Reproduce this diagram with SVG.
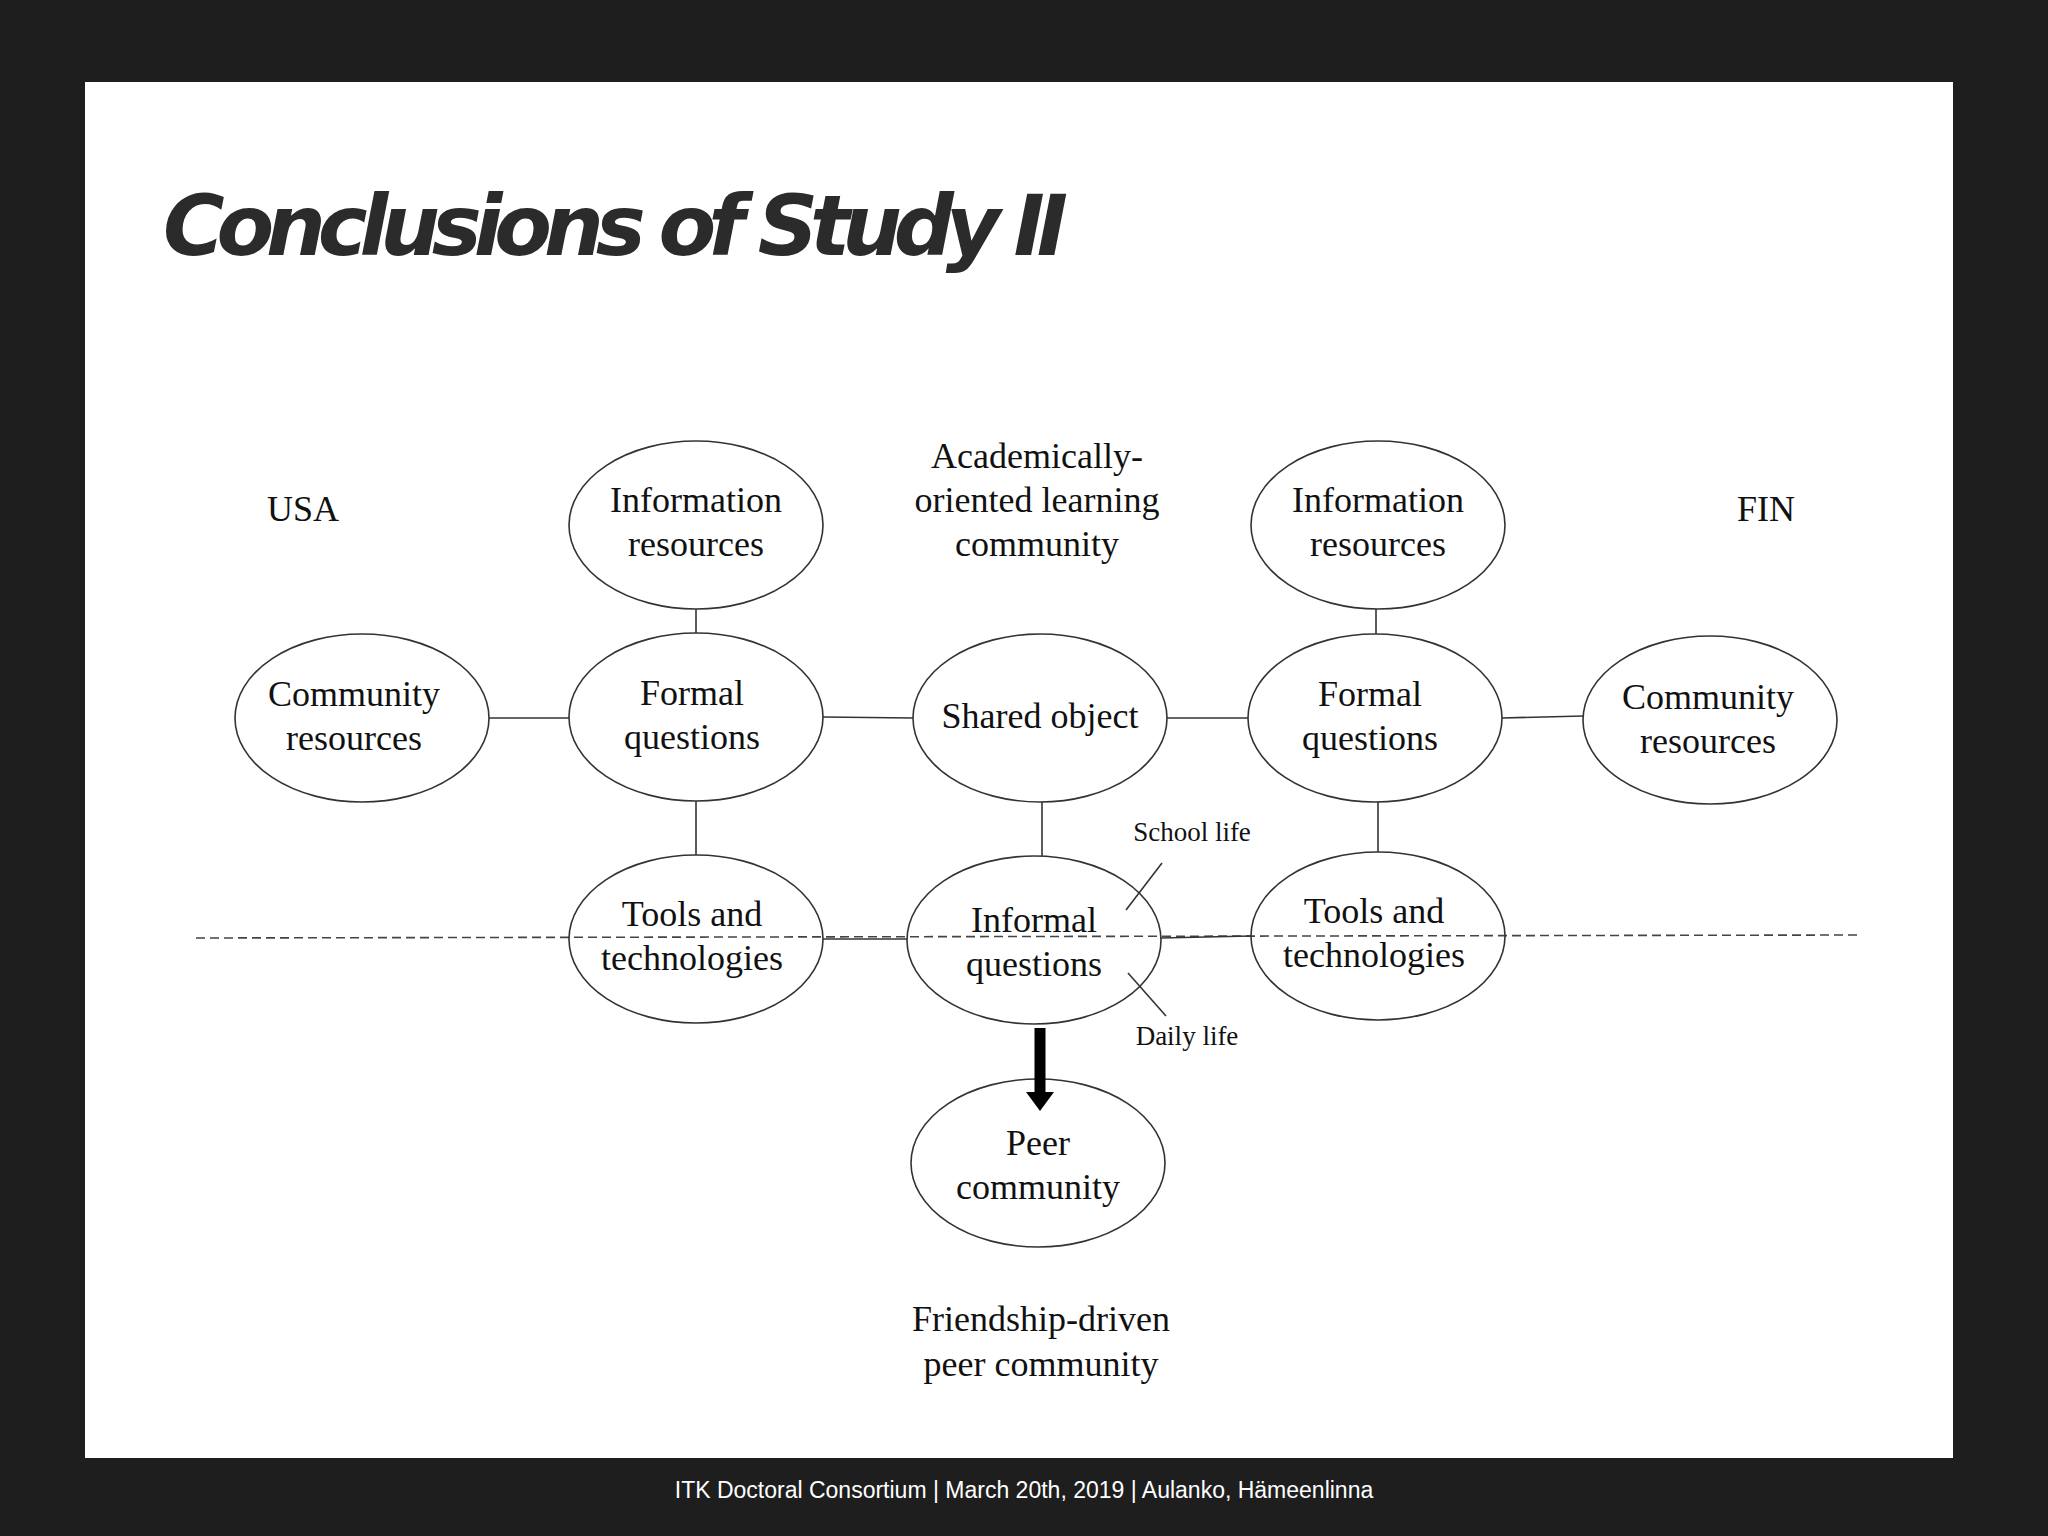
<svg xmlns="http://www.w3.org/2000/svg" width="2048" height="1536" viewBox="0 0 2048 1536">
<style>
.n{fill:#fff;stroke:#333;stroke-width:1.6}
.t{font-family:"Liberation Serif",serif;font-size:36px;fill:#111;text-anchor:middle}
.s{font-family:"Liberation Serif",serif;font-size:27px;fill:#111;text-anchor:middle}
.c line{stroke:#333;stroke-width:1.6}
</style>
<rect width="2048" height="1536" fill="#1e1e1e"/>
<rect x="85" y="82" width="1868" height="1376" fill="#fff"/>
<text x="163" y="255" font-family="DejaVu Sans, sans-serif" font-weight="bold" font-style="italic" font-size="84" fill="#2b2b2b" textLength="905">Conclusions of Study II</text>
<text x="1024" y="1498" font-family="Liberation Sans, sans-serif" font-size="23" fill="#fff" text-anchor="middle">ITK Doctoral Consortium | March 20th, 2019 | Aulanko, Hämeenlinna</text>
<line x1="196" y1="938" x2="1857" y2="935" stroke="#444" stroke-width="1.6" stroke-dasharray="9,5"/>
<g class="c">
<line x1="696" y1="609" x2="696" y2="633"/>
<line x1="489" y1="718" x2="569" y2="718"/>
<line x1="823" y1="717" x2="913" y2="718"/>
<line x1="1167" y1="718" x2="1248" y2="718"/>
<line x1="1502" y1="718" x2="1583" y2="716"/>
<line x1="1376" y1="609" x2="1376" y2="634"/>
<line x1="696" y1="801" x2="696" y2="855"/>
<line x1="1042" y1="802" x2="1042" y2="856"/>
<line x1="1378" y1="802" x2="1378" y2="852"/>
<line x1="823" y1="939" x2="907" y2="939"/>
<line x1="1161" y1="938" x2="1251" y2="936"/>
<line x1="1126" y1="910" x2="1162" y2="863"/>
<line x1="1128" y1="973" x2="1166" y2="1016"/>
</g>
<g id="infoL"><ellipse class="n" cx="696" cy="525" rx="127" ry="84"/><text class="t" x="696" y="512">Information</text><text class="t" x="696" y="556">resources</text></g>
<g id="commL"><ellipse class="n" cx="362" cy="718" rx="127" ry="84"/><text class="t" x="354" y="706">Community</text><text class="t" x="354" y="750">resources</text></g>
<g id="formalL"><ellipse class="n" cx="696" cy="717" rx="127" ry="84"/><text class="t" x="692" y="705">Formal</text><text class="t" x="692" y="749">questions</text></g>
<g id="shared"><ellipse class="n" cx="1040" cy="718" rx="127" ry="84"/><text class="t" x="1040" y="728">Shared object</text></g>
<g id="formalR"><ellipse class="n" cx="1375" cy="718" rx="127" ry="84"/><text class="t" x="1370" y="706">Formal</text><text class="t" x="1370" y="750">questions</text></g>
<g id="infoR"><ellipse class="n" cx="1378" cy="525" rx="127" ry="84"/><text class="t" x="1378" y="512">Information</text><text class="t" x="1378" y="556">resources</text></g>
<g id="commR"><ellipse class="n" cx="1710" cy="720" rx="127" ry="84"/><text class="t" x="1708" y="709">Community</text><text class="t" x="1708" y="753">resources</text></g>
<g id="toolsL"><ellipse class="n" cx="696" cy="939" rx="127" ry="84" fill-opacity="0"/><text class="t" x="692" y="926">Tools and</text><text class="t" x="692" y="970">technologies</text></g>
<g id="informal"><ellipse class="n" cx="1034" cy="940" rx="127" ry="84" fill-opacity="0"/><text class="t" x="1034" y="932">Informal</text><text class="t" x="1034" y="976">questions</text></g>
<g id="toolsR"><ellipse class="n" cx="1378" cy="936" rx="127" ry="84" fill-opacity="0"/><text class="t" x="1374" y="923">Tools and</text><text class="t" x="1374" y="967">technologies</text></g>
<g id="peer"><ellipse class="n" cx="1038" cy="1163" rx="127" ry="84"/><text class="t" x="1038" y="1155">Peer</text><text class="t" x="1038" y="1199">community</text></g>
<g id="arrow">
<path d="M1040 1028 V1094" stroke="#000" stroke-width="11" fill="none"/>
<polygon points="1026,1092 1054,1092 1040,1111" fill="#000"/>
</g>
<text class="t" x="303" y="521">USA</text>
<text class="t" x="1766" y="521">FIN</text>
<text class="t" x="1037" y="468">Academically-</text>
<text class="t" x="1037" y="512">oriented learning</text>
<text class="t" x="1037" y="556">community</text>
<text class="t" x="1041" y="1331">Friendship-driven</text>
<text class="t" x="1041" y="1376">peer community</text>
<text class="s" x="1192" y="841">School life</text>
<text class="s" x="1187" y="1045">Daily life</text>
</svg>
